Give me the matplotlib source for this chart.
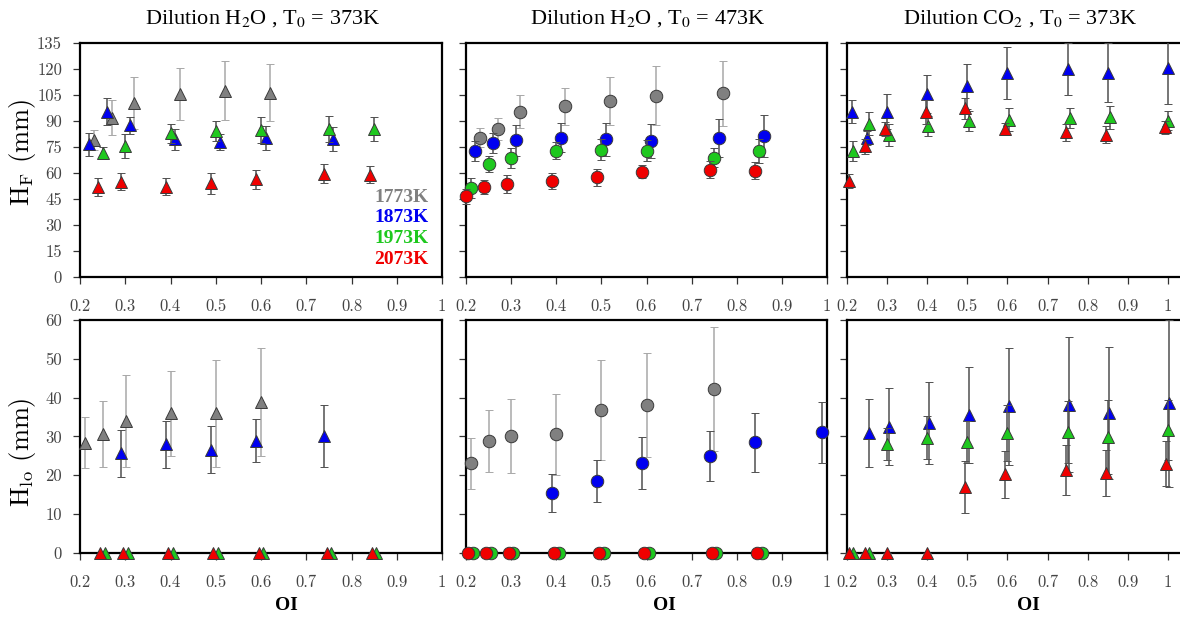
import matplotlib
matplotlib.use("Agg")
import matplotlib.pyplot as plt

# temperatures / colours of the four series
temps = ["1773K", "1873K", "1973K", "2073K"]
colors = ["#808080", "#0000f0", "#1ec81e", "#f00000"]
bar_colors = ["#a8a8a8", "#505050", "#505050", "#505050"]

titles = ["Dilution H$_2$O , T$_0$ = 373K",
          "Dilution H$_2$O , T$_0$ = 473K",
          "Dilution CO$_2$ , T$_0$ = 373K"]
oi_ticks = [0.2, 0.3, 0.4, 0.5, 0.6, 0.7, 0.8, 0.9, 1.0]
oi_labels = ["0.2", "0.3", "0.4", "0.5", "0.6", "0.7", "0.8", "0.9", "1"]
hf_ticks = [0, 15, 30, 45, 60, 75, 90, 105, 120, 135]
hlo_ticks = [0, 10, 20, 30, 40, 50, 60]

# ---- H_F, dilution H2O, T0 = 373K (triangles)
hf1_gray_x = [0.23, 0.27, 0.32, 0.42, 0.52, 0.62]
hf1_gray_y = [79, 92, 100.5, 105.5, 107.5, 106.5]
hf1_gray_e = [6, 10, 15, 15, 17, 16.5]
hf1_blue_x = [0.22, 0.26, 0.31, 0.41, 0.51, 0.61, 0.76]
hf1_blue_y = [76.5, 95.5, 87.5, 79.5, 78, 80, 79.5]
hf1_blue_e = [6.5, 8, 5, 6, 4.5, 7, 7]
hf1_green_x = [0.25, 0.30, 0.40, 0.50, 0.60, 0.75, 0.85]
hf1_green_y = [71.5, 75.5, 83, 84.3, 85, 85.5, 85.5]
hf1_green_e = [3.5, 7, 5.5, 6, 7.5, 7.5, 7]
hf1_red_x = [0.24, 0.29, 0.39, 0.49, 0.59, 0.74, 0.84]
hf1_red_y = [52, 55, 52, 54, 56.3, 59.6, 59]
hf1_red_e = [5.3, 4.7, 5, 6, 5.5, 5.5, 5]

# ---- H_F, dilution H2O, T0 = 473K (circles)
hf2_gray_x = [0.23, 0.27, 0.32, 0.42, 0.52, 0.62, 0.77]
hf2_gray_y = [80.5, 85.3, 95.4, 98.5, 101.5, 104.8, 106]
hf2_gray_e = [5.5, 6.5, 9.5, 10.5, 14, 17, 19]
hf2_blue_x = [0.22, 0.26, 0.31, 0.41, 0.51, 0.61, 0.76, 0.86]
hf2_blue_y = [72.7, 77.4, 78.9, 80.5, 79.5, 78.4, 80.5, 81.4]
hf2_blue_e = [6, 6, 9, 8.3, 9.5, 10, 11, 12]
hf2_green_x = [0.21, 0.25, 0.30, 0.40, 0.50, 0.60, 0.75, 0.85]
hf2_green_y = [51.3, 65.2, 68.7, 72.9, 73.5, 72.9, 68.9, 72.5]
hf2_green_e = [5.5, 4.8, 5.7, 5, 6, 6, 5.5, 7]
hf2_red_x = [0.20, 0.24, 0.29, 0.39, 0.49, 0.59, 0.74, 0.84]
hf2_red_y = [46.4, 51.8, 53.6, 55.5, 57.5, 60.8, 61.9, 61.3]
hf2_red_e = [4.5, 4, 5, 4.5, 5, 4, 5, 5]

# ---- H_F, dilution CO2, T0 = 373K (triangles)
hf3_blue_x = [0.212, 0.25, 0.30, 0.40, 0.50, 0.60, 0.75, 0.85, 1.0]
hf3_blue_y = [95.4, 80.1, 95.4, 105.8, 110.2, 117.9, 120.2, 118.1, 120.8]
hf3_blue_e = [6.7, 4, 10, 11, 13, 15, 15, 17, 21]
hf3_green_x = [0.215, 0.255, 0.305, 0.403, 0.505, 0.605, 0.755, 0.855, 1.0]
hf3_green_y = [72.7, 88.6, 81.9, 86.9, 89.9, 90.8, 91.8, 92.2, 90.3]
hf3_green_e = [5.8, 6.5, 6.3, 5.8, 5.8, 6.5, 5.7, 6.5, 5.5]
hf3_red_x = [0.205, 0.246, 0.295, 0.396, 0.495, 0.595, 0.745, 0.845, 0.994]
hf3_red_y = [55.5, 75.4, 85.5, 95.4, 97.3, 85.7, 83.6, 82.2, 86.3]
hf3_red_e = [4, 4.5, 4, 7, 6.3, 3, 5, 4.7, 3.5]

# ---- H_lo, dilution H2O, T0 = 373K (triangles)
hl1_gray_x = [0.212, 0.251, 0.301, 0.40, 0.50, 0.60]
hl1_gray_y = [28.4, 30.6, 33.9, 35.9, 35.9, 38.9]
hl1_gray_e = [6.5, 8.5, 11.8, 11, 13.7, 14]
hl1_blue_x = [0.291, 0.39, 0.49, 0.59, 0.74]
hl1_blue_y = [25.6, 27.9, 26.6, 28.9, 30.1]
hl1_blue_e = [6, 6, 6, 5.5, 8]
hl1_green_x = [0.255, 0.305, 0.405, 0.505, 0.605, 0.755, 0.855]
hl1_green_y = [0, 0, 0, 0, 0, 0, 0]
hl1_red_x = [0.245, 0.295, 0.395, 0.495, 0.595, 0.745, 0.845]
hl1_red_y = [0, 0, 0, 0, 0, 0, 0]

# ---- H_lo, dilution H2O, T0 = 473K (circles)
hl2_gray_x = [0.21, 0.251, 0.30, 0.40, 0.50, 0.60, 0.75]
hl2_gray_y = [23, 28.8, 30.1, 30.5, 36.8, 38.1, 42.1]
hl2_gray_e = [6.5, 8, 9.5, 10.5, 13, 13.5, 16]
hl2_blue_x = [0.391, 0.49, 0.59, 0.741, 0.84, 0.99]
hl2_blue_y = [15.4, 18.5, 23.1, 24.9, 28.5, 31]
hl2_blue_e = [4.8, 5.3, 6.8, 6.5, 7.6, 7.8]
hl2_green_x = [0.215, 0.255, 0.305, 0.405, 0.505, 0.605, 0.755, 0.855]
hl2_green_y = [0, 0, 0, 0, 0, 0, 0, 0]
hl2_red_x = [0.205, 0.245, 0.295, 0.395, 0.495, 0.595, 0.745, 0.845]
hl2_red_y = [0, 0, 0, 0, 0, 0, 0, 0]

# ---- H_lo, dilution CO2, T0 = 373K (triangles)
hl3_blue_x = [0.256, 0.305, 0.405, 0.505, 0.605, 0.754, 0.854, 1.004]
hl3_blue_y = [30.8, 32.5, 33.4, 35.5, 37.7, 38.2, 36.1, 38.5]
hl3_blue_e = [8.8, 10, 10.5, 12.5, 15, 17.5, 17, 21.5]
hl3_green_x = [0.215, 0.255, 0.30, 0.40, 0.50, 0.60, 0.75, 0.85, 1.0]
hl3_green_y = [0, 0, 28, 29.7, 28.5, 30.9, 31.1, 29.8, 31.7]
hl3_green_e = [0, 0, 4.2, 5.5, 5.5, 7.2, 8, 9.5, 7.8]
hl3_red_x = [0.205, 0.245, 0.30, 0.40, 0.495, 0.595, 0.745, 0.845, 0.995]
hl3_red_y = [0, 0, 0, 0, 17, 20.2, 21.3, 20.5, 22.9]
hl3_red_e = [0, 0, 0, 0, 6.7, 6, 6.5, 6, 5.8]

# (row, col, series index, marker, x, y, err)
series = [
    (0, 0, 0, "^", hf1_gray_x, hf1_gray_y, hf1_gray_e),
    (0, 0, 1, "^", hf1_blue_x, hf1_blue_y, hf1_blue_e),
    (0, 0, 2, "^", hf1_green_x, hf1_green_y, hf1_green_e),
    (0, 0, 3, "^", hf1_red_x, hf1_red_y, hf1_red_e),
    (0, 1, 0, "o", hf2_gray_x, hf2_gray_y, hf2_gray_e),
    (0, 1, 1, "o", hf2_blue_x, hf2_blue_y, hf2_blue_e),
    (0, 1, 2, "o", hf2_green_x, hf2_green_y, hf2_green_e),
    (0, 1, 3, "o", hf2_red_x, hf2_red_y, hf2_red_e),
    (0, 2, 1, "^", hf3_blue_x, hf3_blue_y, hf3_blue_e),
    (0, 2, 2, "^", hf3_green_x, hf3_green_y, hf3_green_e),
    (0, 2, 3, "^", hf3_red_x, hf3_red_y, hf3_red_e),
    (1, 0, 0, "^", hl1_gray_x, hl1_gray_y, hl1_gray_e),
    (1, 0, 1, "^", hl1_blue_x, hl1_blue_y, hl1_blue_e),
    (1, 0, 3, "^", hl1_red_x, hl1_red_y, None),
    (1, 0, 2, "^", hl1_green_x, hl1_green_y, None),
    (1, 1, 0, "o", hl2_gray_x, hl2_gray_y, hl2_gray_e),
    (1, 1, 1, "o", hl2_blue_x, hl2_blue_y, hl2_blue_e),
    (1, 1, 3, "o", hl2_red_x, hl2_red_y, None),
    (1, 1, 2, "o", hl2_green_x, hl2_green_y, None),
    (1, 2, 1, "^", hl3_blue_x, hl3_blue_y, hl3_blue_e),
    (1, 2, 2, "^", hl3_green_x, hl3_green_y, hl3_green_e),
    (1, 2, 3, "^", hl3_red_x, hl3_red_y, hl3_red_e),
]

W, H = 1180, 619
fig = plt.figure(figsize=(W / 100, H / 100), dpi=100)

lefts = [80, 466, 847]
widths = [362, 361, 361]
xlims = [(0.2, 1.0), (0.2, 1.0), (0.2, 1.1)]
rows = [(276.7, 233.4), (552.7, 232.7)]  # bottom edge px, height px

axes = [[None] * 3 for _ in range(2)]
for r in range(2):
    for c in range(3):
        bot, hgt = rows[r]
        ax = fig.add_axes([lefts[c] / W, (H - bot) / H, widths[c] / W, hgt / H])
        ax.set_xlim(*xlims[c])
        ax.set_xticks(oi_ticks)
        ax.set_xticklabels(oi_labels)
        if r == 0:
            ax.set_ylim(0, 135)
            ax.set_yticks(hf_ticks)
        else:
            ax.set_ylim(0, 60)
            ax.set_yticks(hlo_ticks)
        if c > 0:
            ax.set_yticklabels([])
        for s in ax.spines.values():
            s.set_linewidth(1.6)
        ax.tick_params(direction="out", length=5, width=0.9, color="#333333")
        ax.tick_params(axis="x", pad=11, labelsize=12, labelcolor="#444444")
        ax.tick_params(axis="y", pad=8, labelsize=12, labelcolor="#444444")
        for lab in ax.get_xticklabels() + ax.get_yticklabels():
            lab.set_fontfamily("cmr10")
        axes[r][c] = ax

for r, c, k, mk, xs, ys, es in series:
    ax = axes[r][c]
    eb = ax.errorbar(xs, ys, yerr=es, fmt=mk, ms=9, mfc=colors[k], mec="#3a3a3a",
                     mew=0.7, ecolor=bar_colors[k], elinewidth=1.1, capsize=3,
                     capthick=1.0, zorder=3 + k)
    eb[0].set_clip_on(False)
    if not (r == 0 and c == 2):
        for art in eb[1] + eb[2]:
            art.set_clip_on(False)

# legend as coloured text
for k, t in enumerate(temps):
    axes[0][0].text(0.97, 46 - 12 * k, t, color=colors[k], fontsize=14,
                    fontweight="bold", family="Liberation Serif",
                    ha="right", va="center")

title_x = [263, 648, 1020]
for c in range(3):
    fig.text(title_x[c] / W, 1 - 19 / H, titles[c], fontsize=16,
             family="Liberation Serif", math_fontfamily="stix",
             ha="center", va="center")

oi_x = [286, 664, 1028]
for c in range(3):
    fig.text(oi_x[c] / W, 1 - 606 / H, "OI", fontsize=14, fontweight="bold",
             family="Liberation Serif", ha="center", va="center")

fig.text(22 / W, 1 - 152 / H, r"H$_{\rm F}$ (mm)", fontsize=19, rotation=90,
         family="cmr10", math_fontfamily="cm", ha="center", va="center")
fig.text(22 / W, 1 - 452 / H, r"H$_{\rm lo}$ (mm)", fontsize=19, rotation=90,
         family="cmr10", math_fontfamily="cm", ha="center", va="center")

fig.savefig("out.png", dpi=100)
